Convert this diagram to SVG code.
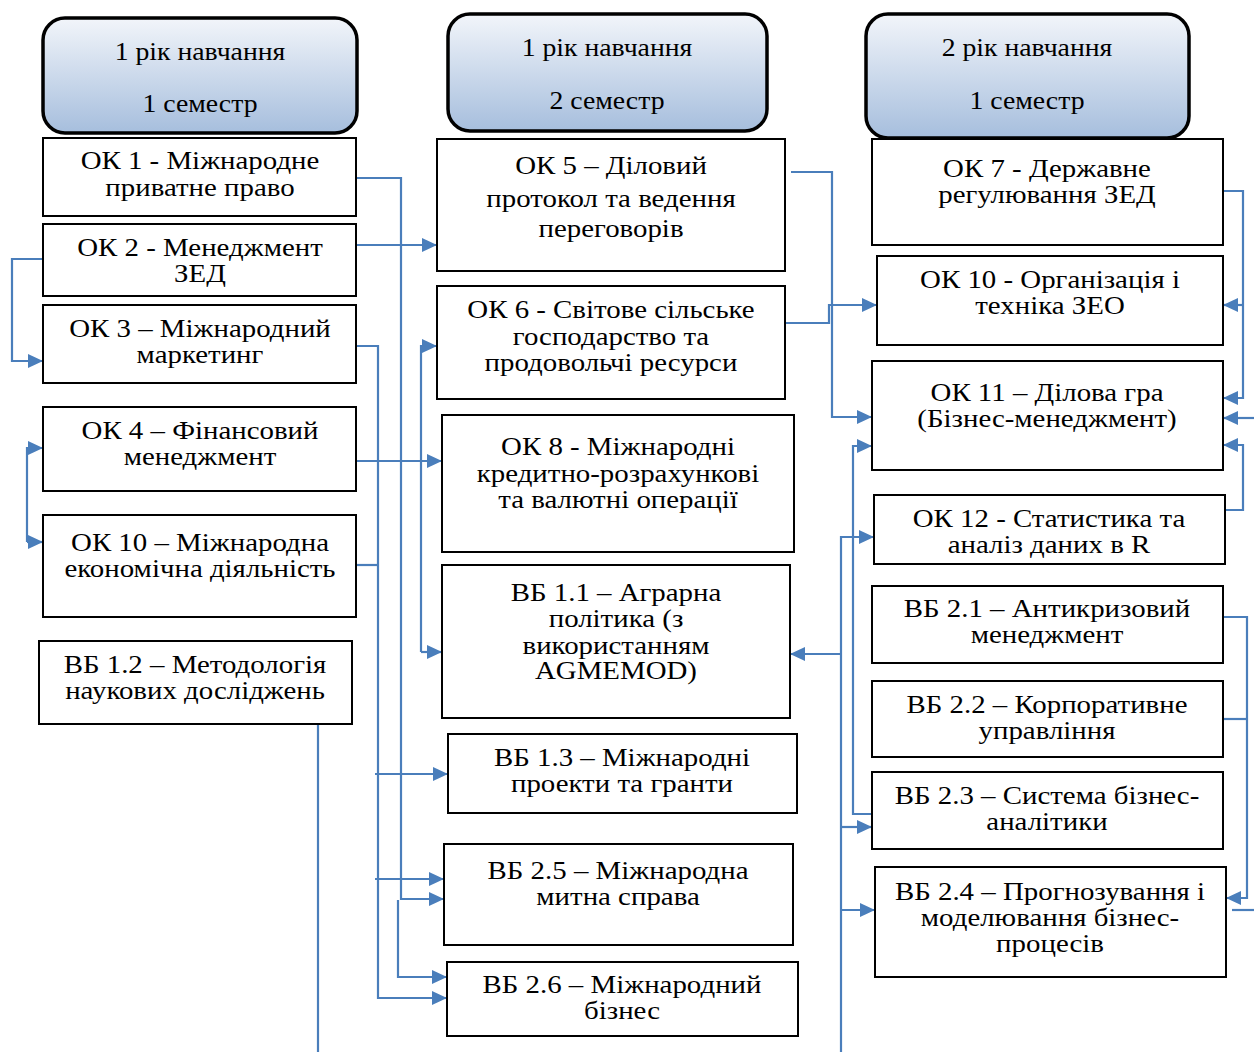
<svg xmlns="http://www.w3.org/2000/svg" width="1254" height="1052" viewBox="0 0 1254 1052">
<defs>
<linearGradient id="hg" x1="0" y1="0" x2="0" y2="1">
<stop offset="0" stop-color="#f2f5fa"/>
<stop offset="1" stop-color="#a6bedd"/>
</linearGradient>
<marker id="ar" markerUnits="userSpaceOnUse" markerWidth="16" markerHeight="16" refX="15" refY="8" orient="auto">
<path d="M0,1 L15,8 L0,15 z" fill="#4a7ebb"/>
</marker>
</defs>
<style>
.hd{fill:url(#hg);stroke:#000;stroke-width:3.5}
.bx{fill:#fff;stroke:#000;stroke-width:2}
text{font-family:"Liberation Serif","Times New Roman",serif;font-size:25px;fill:#000;text-anchor:middle}
.c{fill:none;stroke:#4a7ebb;stroke-width:2.2}
.a{marker-end:url(#ar)}
</style>
<rect width="1254" height="1052" fill="#fff"/>

<g id="connectors">
<path class="c a" d="M356,178 H401 V899 H444"/>
<path class="c a" d="M356,245 H437"/>
<path class="c a" d="M356,346 H378 V998 H447"/>
<path class="c a" d="M375,774 H448"/>
<path class="c a" d="M375,879 H444"/>
<path class="c" d="M354,565 H378"/>
<path class="c a" d="M353,461 H442"/>
<path class="c a" d="M421,652 V346 H437"/>
<path class="c a" d="M421,652 H442"/>
<path class="c a" d="M398,900 V977 H447"/>
<path class="c a" d="M43,259 H12 V361 H43"/>
<path class="c a" d="M27,542 V448 H43"/>
<path class="c a" d="M27,542 H43"/>
<path class="c" d="M318,724 V1052"/>
<path class="c a" d="M791,172 H832 V417 H872"/>
<path class="c a" d="M785,323 H829 V305 H877"/>
<path class="c a" d="M872,814 H853 V446 H872"/>
<path class="c a" d="M841,1052 V537 H874"/>
<path class="c a" d="M841,654 H790"/>
<path class="c a" d="M841,827 H872"/>
<path class="c a" d="M841,910 H875"/>
<path class="c a" d="M1223,191 H1243 V398 H1223"/>
<path class="c a" d="M1243,305 H1223"/>
<path class="c a" d="M1254,418 H1223"/>
<path class="c a" d="M1226,510 H1243 V445 H1223"/>
<path class="c a" d="M1223,617 H1247 V898 H1226"/>
<path class="c" d="M1223,719 H1247"/>
<path class="c" d="M1232,910 H1254"/>
</g>

<g id="h1"><rect class="hd" x="43" y="18" width="314" height="115" rx="22"/><g transform="translate(200 0) scale(1.11 1)"><text x="0" y="60">1 рік навчання</text><text x="0" y="112">1 семестр</text></g></g>
<g id="h2"><rect class="hd" x="448" y="14" width="319" height="117" rx="22"/><g transform="translate(607 0) scale(1.11 1)"><text x="0" y="56">1 рік навчання</text><text x="0" y="109">2 семестр</text></g></g>
<g id="h3"><rect class="hd" x="866" y="14" width="323" height="124" rx="22"/><g transform="translate(1027 0) scale(1.11 1)"><text x="0" y="56">2 рік навчання</text><text x="0" y="109">1 семестр</text></g></g>

<g id="ok1"><rect class="bx" x="43" y="138" width="313" height="78"/><g transform="translate(200 0) scale(1.155 1)"><text x="0" y="169">ОК 1 - Міжнародне</text><text x="0" y="196">приватне право</text></g></g>
<g id="ok2"><rect class="bx" x="43" y="224" width="313" height="72"/><g transform="translate(200 0) scale(1.155 1)"><text x="0" y="256">ОК 2 - Менеджмент</text><text x="0" y="282">ЗЕД</text></g></g>
<g id="ok3"><rect class="bx" x="43" y="305" width="313" height="78"/><g transform="translate(200 0) scale(1.155 1)"><text x="0" y="337">ОК 3 – Міжнародний</text><text x="0" y="363">маркетинг</text></g></g>
<g id="ok4"><rect class="bx" x="43" y="407" width="313" height="84"/><g transform="translate(200 0) scale(1.155 1)"><text x="0" y="439">ОК 4 – Фінансовий</text><text x="0" y="465">менеджмент</text></g></g>
<g id="ok10a"><rect class="bx" x="43" y="515" width="313" height="102"/><g transform="translate(200 0) scale(1.155 1)"><text x="0" y="551">ОК 10 – Міжнародна</text><text x="0" y="577">економічна діяльність</text></g></g>
<g id="vb12"><rect class="bx" x="39" y="641" width="313" height="83"/><g transform="translate(195 0) scale(1.155 1)"><text x="0" y="673">ВБ 1.2 – Методологія</text><text x="0" y="699">наукових досліджень</text></g></g>

<g id="ok5"><rect class="bx" x="437" y="139" width="348" height="132"/><g transform="translate(611 0) scale(1.155 1)"><text x="0" y="174">ОК 5 – Діловий</text><text x="0" y="207">протокол та ведення</text><text x="0" y="237">переговорів</text></g></g>
<g id="ok6"><rect class="bx" x="437" y="286" width="348" height="113"/><g transform="translate(611 0) scale(1.155 1)"><text x="0" y="318">ОК 6 - Світове сільське</text><text x="0" y="345">господарство та</text><text x="0" y="371">продовольчі ресурси</text></g></g>
<g id="ok8"><rect class="bx" x="442" y="415" width="352" height="137"/><g transform="translate(618 0) scale(1.155 1)"><text x="0" y="455">ОК 8 - Міжнародні</text><text x="0" y="482">кредитно-розрахункові</text><text x="0" y="508">та валютні операції</text></g></g>
<g id="vb11"><rect class="bx" x="442" y="565" width="348" height="153"/><g transform="translate(616 0) scale(1.155 1)"><text x="0" y="601">ВБ 1.1 – Аграрна</text><text x="0" y="627">політика (з</text><text x="0" y="654">використанням</text><text x="0" y="679">AGMEMOD)</text></g></g>
<g id="vb13"><rect class="bx" x="448" y="734" width="349" height="79"/><g transform="translate(622 0) scale(1.155 1)"><text x="0" y="766">ВБ 1.3 – Міжнародні</text><text x="0" y="792">проекти та гранти</text></g></g>
<g id="vb25"><rect class="bx" x="444" y="844" width="349" height="101"/><g transform="translate(618 0) scale(1.155 1)"><text x="0" y="879">ВБ 2.5 – Міжнародна</text><text x="0" y="905">митна справа</text></g></g>
<g id="vb26"><rect class="bx" x="447" y="962" width="351" height="74"/><g transform="translate(622 0) scale(1.155 1)"><text x="0" y="993">ВБ 2.6 – Міжнародний</text><text x="0" y="1019">бізнес</text></g></g>

<g id="ok7"><rect class="bx" x="872" y="139" width="351" height="106"/><g transform="translate(1047 0) scale(1.155 1)"><text x="0" y="177">ОК 7 - Державне</text><text x="0" y="203">регулювання ЗЕД</text></g></g>
<g id="ok10b"><rect class="bx" x="877" y="256" width="346" height="89"/><g transform="translate(1050 0) scale(1.155 1)"><text x="0" y="288">ОК 10 - Організація і</text><text x="0" y="314">техніка ЗЕО</text></g></g>
<g id="ok11"><rect class="bx" x="872" y="361" width="351" height="109"/><g transform="translate(1047 0) scale(1.155 1)"><text x="0" y="401">ОК 11 – Ділова гра</text><text x="0" y="427">(Бізнес-менеджмент)</text></g></g>
<g id="ok12"><rect class="bx" x="874" y="495" width="351" height="69"/><g transform="translate(1049 0) scale(1.155 1)"><text x="0" y="527">ОК 12 - Статистика та</text><text x="0" y="553">аналіз даних в R</text></g></g>
<g id="vb21"><rect class="bx" x="872" y="586" width="351" height="77"/><g transform="translate(1047 0) scale(1.155 1)"><text x="0" y="617">ВБ 2.1 – Антикризовий</text><text x="0" y="643">менеджмент</text></g></g>
<g id="vb22"><rect class="bx" x="872" y="681" width="351" height="76"/><g transform="translate(1047 0) scale(1.155 1)"><text x="0" y="713">ВБ 2.2 – Корпоративне</text><text x="0" y="739">управління</text></g></g>
<g id="vb23"><rect class="bx" x="872" y="772" width="351" height="77"/><g transform="translate(1047 0) scale(1.155 1)"><text x="0" y="804">ВБ 2.3 – Система бізнес-</text><text x="0" y="830">аналітики</text></g></g>
<g id="vb24"><rect class="bx" x="875" y="867" width="351" height="110"/><g transform="translate(1050 0) scale(1.155 1)"><text x="0" y="900">ВБ 2.4 – Прогнозування і</text><text x="0" y="926">моделювання бізнес-</text><text x="0" y="952">процесів</text></g></g>
</svg>
